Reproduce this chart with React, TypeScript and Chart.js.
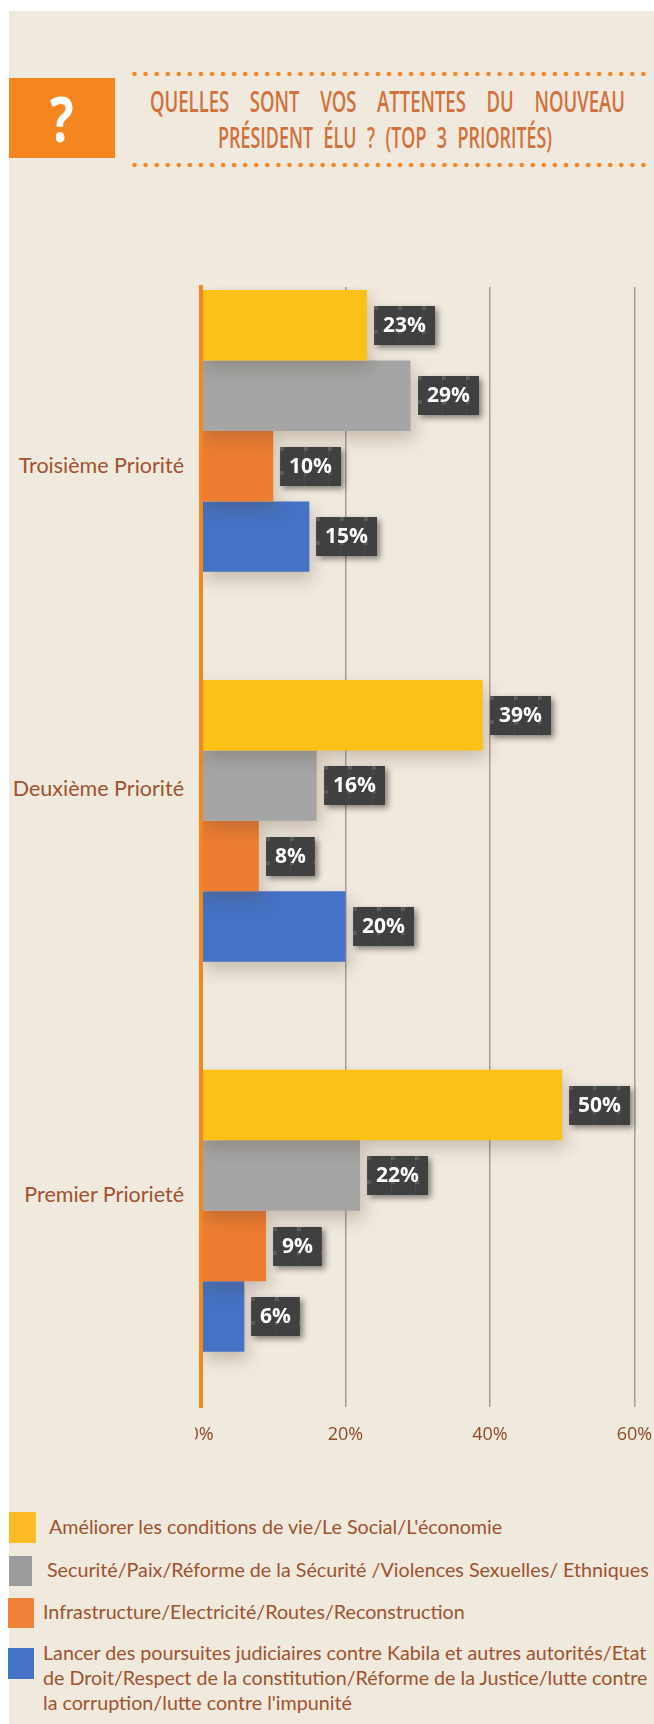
import React, { useEffect, useLayoutEffect, useRef, useState } from 'react';
import { Chart, registerables } from 'chart.js';

Chart.register(...registerables);

// ---------- data ----------
const categories = ['Troisième Priorité', 'Deuxième Priorité', 'Premier Priorieté'];
const seriesNames = [
  "Améliorer les conditions de vie/Le Social/L'économie",
  'Securité/Paix/Réforme de la Sécurité /Violences Sexuelles/ Ethniques',
  'Infrastructure/Electricité/Routes/Reconstruction',
  "Lancer des poursuites judiciaires contre Kabila et autres autorités/Etat de Droit/Respect de la constitution/Réforme de la Justice/lutte contre la corruption/lutte contre l'impunité",
];
const legendLines = [
  ["Améliorer les conditions de vie/Le Social/L'économie"],
  ['Securité/Paix/Réforme de la Sécurité /Violences Sexuelles/ Ethniques'],
  ['Infrastructure/Electricité/Routes/Reconstruction'],
  [
    'Lancer des poursuites judiciaires contre Kabila et autres autorités/Etat',
    'de Droit/Respect de la constitution/Réforme de la Justice/lutte contre',
    "la corruption/lutte contre l'impunité",
  ],
];
const socialValues = [23, 39, 50];
const securityValues = [29, 16, 22];
const infraValues = [10, 8, 9];
const justiceValues = [15, 20, 6];
const seriesValues = [socialValues, securityValues, infraValues, justiceValues];
const xTickValues = [0, 20, 40, 60];
const titleLine1 = ['QUELLES', 'SONT', 'VOS', 'ATTENTES', 'DU', 'NOUVEAU'];
const titleLine2 = 'PRÉSIDENT ÉLU ? (TOP 3 PRIORITÉS)';

// ---------- styles ----------
const BEIGE = '#F0E9DE';
const ORANGE = '#F5861F';
const barColors = ['#FCC116', '#A5A5A5', '#ED7D31', '#4472C4'];
const legendColors = ['#FBBC26', '#999B9C', '#F08138', '#4472C4'];
const TEXT_BROWN = '#A0522D';
const TITLE_COLOR = '#D2713C';

const CANVAS_TOP = 280;
const CANVAS_H = 1177;

// layout of HTML parts
const categoryLabelCenters = [465, 788, 1194];
const legendLayout = [
  { sq: { l: 9, t: 1512, w: 27, h: 31 }, textLeft: 49, textTop: 1514 },
  { sq: { l: 9, t: 1556, w: 23, h: 30 }, textLeft: 47, textTop: 1557 },
  { sq: { l: 8, t: 1598, w: 26, h: 30 }, textLeft: 43, textTop: 1599 },
  { sq: { l: 8, t: 1648, w: 26, h: 31 }, textLeft: 43, textTop: 1639.5 },
];

let patternCache: CanvasPattern | null = null;
function getPattern(ctx: CanvasRenderingContext2D) {
  if (patternCache) return patternCache;
  const c = document.createElement('canvas');
  c.width = 24;
  c.height = 24;
  const p = c.getContext('2d')!;
  p.fillStyle = 'rgba(255,255,255,0.05)';
  p.fillRect(0, 0, 1, 24);
  p.fillStyle = 'rgba(255,255,255,0.13)';
  p.fillRect(0, 0, 4, 4);
  patternCache = ctx.createPattern(c, 'repeat');
  return patternCache;
}

const barShadowPlugin = {
  id: 'barShadow',
  beforeDatasetDraw(chart: any) {
    const ctx = chart.ctx;
    ctx.save();
    ctx.shadowColor = 'rgba(90,70,50,0.28)';
    ctx.shadowBlur = 16;
    ctx.shadowOffsetX = 3;
    ctx.shadowOffsetY = 8;
  },
  afterDatasetDraw(chart: any) {
    chart.ctx.restore();
  },
};

const valueLabelPlugin = {
  id: 'valueLabels',
  afterDatasetsDraw(chart: any) {
    const ctx: CanvasRenderingContext2D = chart.ctx;
    const pattern = getPattern(ctx);
    chart.data.datasets.forEach((ds: any, di: number) => {
      const meta = chart.getDatasetMeta(di);
      meta.data.forEach((bar: any, i: number) => {
        const text = ds.data[i].x + '%';
        ctx.save();
        ctx.font = 'bold 21px "Open Sans"';
        const tw = ctx.measureText(text).width;
        const w = Math.round(tw + 18);
        const h = 39;
        const bx = Math.round(bar.x + 7);
        const by = Math.round(bar.y - h / 2);
        ctx.shadowColor = 'rgba(0,0,0,0.45)';
        ctx.shadowBlur = 6;
        ctx.shadowOffsetX = 3;
        ctx.shadowOffsetY = 3;
        ctx.fillStyle = '#404040';
        ctx.fillRect(bx, by, w, h);
        ctx.shadowColor = 'transparent';
        ctx.translate(bx, by);
        if (pattern) {
          ctx.fillStyle = pattern;
          ctx.fillRect(0, 0, w, h);
        }
        ctx.fillStyle = '#FFFFFF';
        ctx.textAlign = 'center';
        ctx.textBaseline = 'middle';
        ctx.fillText(text, w / 2, h / 2 + 1);
        ctx.restore();
      });
    });
  },
};

const zeroClipPlugin = {
  id: 'zeroClip',
  afterDraw(chart: any) {
    const ctx = chart.ctx;
    const a = chart.chartArea;
    ctx.save();
    ctx.fillStyle = BEIGE;
    ctx.fillRect(a.left - 30, a.bottom + 6, 24, 40);
    ctx.restore();
  },
};

const K1 = 0.66; // condensed factor for title line 1

const titleFont: React.CSSProperties = {
  fontFamily: '"Open Sans", sans-serif',
  fontWeight: 600,
  fontSize: 28,
  lineHeight: '28px',
  color: TITLE_COLOR,
  whiteSpace: 'nowrap',
};

// A single line squeezed horizontally to an exact width
function FitLine(props: { text: string; left: number; top: number; width: number; style: React.CSSProperties }) {
  const ref = useRef<HTMLSpanElement>(null);
  const [k, setK] = useState(0.64);
  useLayoutEffect(() => {
    const el = ref.current;
    if (el && el.offsetWidth > 0) setK(props.width / el.offsetWidth);
  }, [props.text, props.width]);
  return (
    <div style={{ position: 'absolute', left: props.left, top: props.top, width: props.width, height: 28 }}>
      <span
        ref={ref}
        style={{
          ...props.style,
          position: 'absolute',
          left: 0,
          top: 0,
          display: 'inline-block',
          transform: `scaleX(${k})`,
          transformOrigin: 'left top',
        }}
      >
        {props.text}
      </span>
    </div>
  );
}

export default function App() {
  const canvasRef = useRef<HTMLCanvasElement>(null);

  useEffect(() => {
    const canvas = canvasRef.current!;
    const chart = new Chart(canvas, {
      type: 'bar',
      data: {
        datasets: seriesValues.map((vals, si) => ({
          label: seriesNames[si],
          data: vals.map((v, i) => ({ x: v, y: i })),
          backgroundColor: barColors[si],
          borderWidth: 0,
          categoryPercentage: 0.723,
          barPercentage: 1,
        })),
      },
      options: {
        indexAxis: 'y',
        animation: false,
        responsive: false,
        maintainAspectRatio: false,
        devicePixelRatio: 1,
        layout: { padding: { top: 7, right: 19.5, bottom: 0, left: 0 } },
        scales: {
          x: {
            type: 'linear',
            position: 'bottom',
            min: 0,
            max: 60,
            afterBuildTicks: (s: any) => {
              s.ticks = xTickValues.map((v) => ({ value: v }));
            },
            afterFit: (s: any) => {
              s.height = 50;
            },
            ticks: {
              callback: (v: any) => v + '%',
              font: { family: '"Open Sans"', size: 18, lineHeight: 3.111 },
              color: '#8F4A28',
              padding: 0,
              maxRotation: 0,
              autoSkip: false,
            },
            grid: { color: '#A29E97', lineWidth: 1.5, drawTicks: false },
            border: { display: false },
          },
          y: {
            type: 'linear',
            position: 'left',
            reverse: true,
            offset: false,
            min: -0.369,
            max: 2.503,
            afterBuildTicks: (s: any) => {
              s.ticks = categories.map((_, i) => ({ value: i }));
            },
            afterFit: (s: any) => {
              s.width = 201;
            },
            ticks: { display: false },
            grid: { display: false, offset: false },
            border: { display: true, color: ORANGE, width: 4, z: 1 },
          },
        },
        plugins: {
          legend: { display: false },
          tooltip: { enabled: false },
        },
      } as any,
      plugins: [barShadowPlugin, valueLabelPlugin, zeroClipPlugin],
    });
    return () => chart.destroy();
  }, []);

  const dotRow = (top: number) => (
    <div
      style={{
        position: 'absolute',
        left: 128.5,
        top: top - 3,
        width: 520,
        height: 6,
        backgroundImage: `radial-gradient(circle, ${ORANGE} 1.9px, rgba(245,134,31,0) 2.6px)`,
        backgroundSize: '11.065px 6px',
        backgroundRepeat: 'repeat-x',
      }}
    />
  );

  return (
    <div
      style={{
        position: 'absolute',
        left: 0,
        top: 0,
        width: 654,
        height: 1724,
        background: '#FFFFFF',
        overflow: 'hidden',
      }}
    >
      <div
        style={{
          position: 'absolute',
          left: 9,
          top: 11,
          width: 645,
          height: 1713,
          background: BEIGE,
        }}
      />
      {/* question box */}
      <div
        style={{
          position: 'absolute',
          left: 9,
          top: 78,
          width: 106,
          height: 80,
          background: ORANGE,
          display: 'flex',
          alignItems: 'center',
          justifyContent: 'center',
        }}
      >
        <span
          style={{
            fontFamily: '"Open Sans", sans-serif',
            fontWeight: 700,
            fontSize: 62,
            lineHeight: '62px',
            color: '#FFFFFF',
            display: 'inline-block',
            transform: 'scaleX(0.8)',
          }}
        >
          ?
        </span>
      </div>
      {dotRow(74)}
      {dotRow(165)}
      {/* title line 1 (justified) */}
      <div style={{ position: 'absolute', left: 150, top: 87, width: 475, height: 28 }}>
        <div
          style={{
            ...titleFont,
            width: 475 / K1,
            transform: `scaleX(${K1})`,
            transformOrigin: 'left top',
            display: 'flex',
            justifyContent: 'space-between',
          }}
        >
          {titleLine1.map((w) => (
            <span key={w}>{w}</span>
          ))}
        </div>
      </div>
      {/* title line 2 */}
      <FitLine text={titleLine2} left={218} top={123} width={334} style={{ ...titleFont, wordSpacing: 9 }} />

      {/* category labels */}
      {categories.map((c, i) => (
        <div
          key={c}
          style={{
            position: 'absolute',
            right: 654 - 184,
            top: categoryLabelCenters[i] - 13,
            height: 26,
            lineHeight: '26px',
            fontFamily: 'Lato, sans-serif',
            fontSize: 21.5,
            color: TEXT_BROWN,
            whiteSpace: 'nowrap',
          }}
        >
          {c}
        </div>
      ))}

      <canvas
        ref={canvasRef}
        width={654}
        height={CANVAS_H}
        style={{ position: 'absolute', left: 0, top: CANVAS_TOP, width: 654, height: CANVAS_H }}
      />

      {/* legend */}
      {legendLines.map((lines, i) => {
        const L = legendLayout[i];
        return (
          <React.Fragment key={i}>
            <div
              style={{
                position: 'absolute',
                left: L.sq.l,
                top: L.sq.t,
                width: L.sq.w,
                height: L.sq.h,
                background: legendColors[i],
              }}
            />
            <div
              title={seriesNames[i]}
              style={{
                position: 'absolute',
                left: L.textLeft,
                top: L.textTop,
                fontFamily: 'Lato, sans-serif',
                fontSize: 19.7,
                lineHeight: '25px',
                color: TEXT_BROWN,
                whiteSpace: 'nowrap',
              }}
            >
              {lines.map((ln, j) => (
                <div key={j}>{ln}</div>
              ))}
            </div>
          </React.Fragment>
        );
      })}
    </div>
  );
}
